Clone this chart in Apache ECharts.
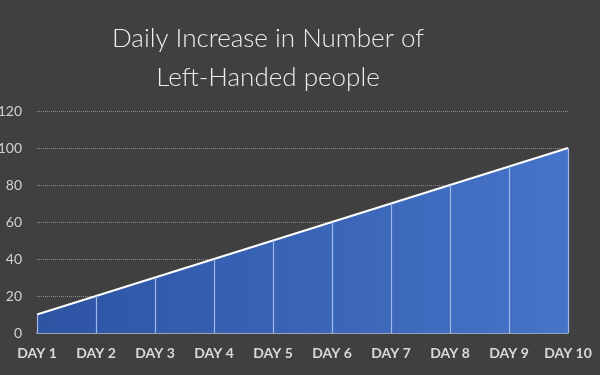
<!DOCTYPE html>
<html><head><meta charset="utf-8">
<script src="https://cdn.jsdelivr.net/npm/echarts@6/dist/echarts.min.js"></script>
<style>html,body{margin:0;padding:0;background:#404040}#c{width:600px;height:375px}</style>
</head><body><div id="c"></div>
<script>
var categories = ['DAY 1','DAY 2','DAY 3','DAY 4','DAY 5','DAY 6','DAY 7','DAY 8','DAY 9','DAY 10'];
var values = [10,20,30,40,50,60,70,80,90,100];
var titleText = 'Daily Increase in Number of\nLeft-Handed people';

var dropLines = values.map(function(v,i){return [{coord:[i,0]},{coord:[i,v]}];});
var chart = echarts.init(document.getElementById('c'));
chart.setOption({
  backgroundColor:'#404040',
  animation:false,
  title:{text:titleText,left:263,textAlign:'center',top:14,textStyle:{color:'#ececec',fontFamily:'Lato',fontWeight:300,fontSize:26,lineHeight:39}},
  grid:{left:37,right:32,top:111,bottom:42,containLabel:false,outerBoundsMode:'none'},
  xAxis:{type:'category',data:categories,boundaryGap:false,
    axisLine:{lineStyle:{color:'#a9b8d6',width:1.5}},axisTick:{show:false},
    axisLabel:{interval:0,hideOverlap:false,color:'#d9d9d9',fontFamily:'Lato',fontWeight:'bold',fontSize:14,margin:13},
    splitLine:{show:false}},
  yAxis:{type:'value',min:0,max:120,interval:20,
    axisLine:{show:false},axisTick:{show:false},
    axisLabel:{color:'#d0d0d0',fontFamily:'Lato',fontSize:14,margin:15},
    splitLine:{lineStyle:{color:'#8a8a8a',type:'dotted',width:1}}},
  series:[{type:'line',data:values,symbol:'none',
    lineStyle:{color:'#ffffff',width:2},
    areaStyle:{opacity:1,color:new echarts.graphic.LinearGradient(0,0,1,0,[{offset:0,color:'#2d54a3'},{offset:1,color:'#4674c8'}])},
    markLine:{silent:true,symbol:['none','none'],label:{show:false},
      lineStyle:{color:'#9fbaea',type:'solid',width:1.2},data:dropLines},
    z:2}]
});
</script></body></html>
